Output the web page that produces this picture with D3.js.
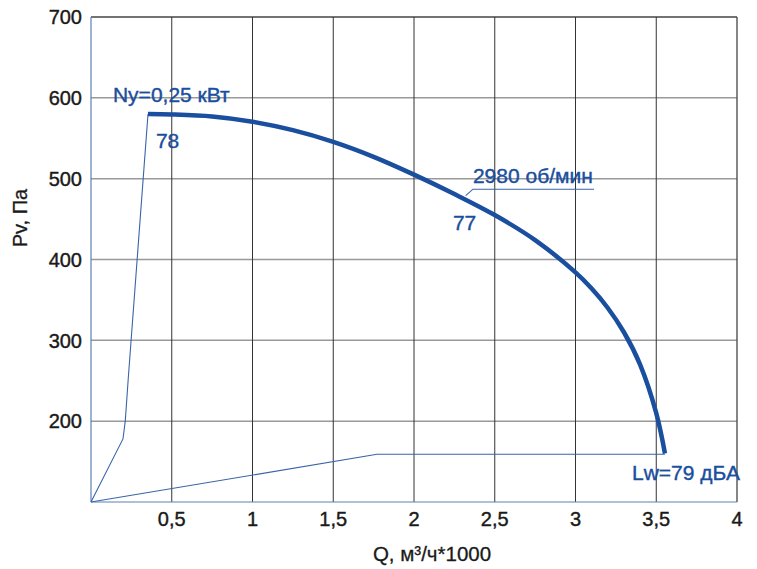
<!DOCTYPE html>
<html><head><meta charset="utf-8">
<script src="https://cdn.jsdelivr.net/npm/d3@7"></script>
<style>
body{margin:0;background:#fff;}
text{font-family:"Liberation Sans",Arial,sans-serif;}
</style></head>
<body><svg id="c" width="757" height="569"></svg>
<script>
// Data
const xTicks = [0.5,1,1.5,2,2.5,3,3.5,4];
const yTicks = [200,300,400,500,600,700];
const curveQ = [0.353,0.5,0.75,1.0,1.25,1.5,1.75,2.0,2.25,2.5,2.75,3.0,3.1,3.2,3.3,3.4,3.5,3.554];
const curveP = [580,579.5,577,570.5,560,545.5,527,505,481,455,424,384,364,340,310,270,210,160];
const powerQ = [0,0.198,0.212,0.23,0.353];
const powerP = [100,178,200,251,580];
const noiseQ = [0,1.771,3.554];
const noiseP = [100,159,159];
const leaderQ = [2.32,2.365,3.115];
const leaderP = [479,487,487];
const labels = [
  {t:"Ny=0,25 кВт", q:0.136, p:595},
  {t:"78", q:0.402, p:538},
  {t:"2980 об/мин", q:2.365, p:494.5},
  {t:"77", q:2.241, p:436},
  {t:"Lw=79 дБА", q:3.35, p:127}
];

const svg = d3.select("#c");
const x = d3.scaleLinear().domain([0,4]).range([91,737]);
const y = d3.scaleLinear().domain([100,700]).range([502,17]);
const blue = "#1a4e9e";

// grid
svg.append("g").selectAll("line").data(yTicks).join("line")
  .attr("x1",x(0)).attr("x2",x(4)).attr("y1",d=>y(d)).attr("y2",d=>y(d))
  .attr("stroke",d=>d===700?"#444":"#999").attr("stroke-width",d=>d===700?1.3:1.5);
svg.append("g").selectAll("line").data(xTicks).join("line")
  .attr("x1",d=>x(d)).attr("x2",d=>x(d)).attr("y1",y(100)).attr("y2",y(700))
  .attr("stroke",d=>d===4?"#444":"#333").attr("stroke-width",d=>d===4?1.3:1);
// left & bottom axis lines
svg.append("line").attr("x1",x(0)).attr("x2",x(0)).attr("y1",y(100)).attr("y2",y(700))
  .attr("stroke","#5b82b3").attr("stroke-width",1.2);
svg.append("line").attr("x1",x(0)).attr("x2",x(4)).attr("y1",y(100)).attr("y2",y(100))
  .attr("stroke","#5b82b3").attr("stroke-width",1.2);

const ink = "#1a1a1a";
// tick labels
svg.append("g").selectAll("text").data(xTicks).join("text")
  .attr("x",d=>x(d)).attr("y",526).attr("text-anchor","middle")
  .attr("font-size",20).attr("fill",ink).attr("stroke",ink).attr("stroke-width",0.4)
  .text(d=>String(d).replace(".",","));
svg.append("g").selectAll("text").data(yTicks).join("text")
  .attr("x",82).attr("y",d=>y(d)).attr("dy","0.36em").attr("text-anchor","end")
  .attr("font-size",20).attr("fill",ink).attr("stroke",ink).attr("stroke-width",0.4).text(d=>d);

// axis titles
svg.append("text").attr("x",432).attr("y",561).attr("text-anchor","middle")
  .attr("font-size",20.5).attr("fill",ink).attr("stroke",ink).attr("stroke-width",0.3).text("Q, м³/ч*1000");
svg.append("text").attr("transform","translate(27,218) rotate(-90)").attr("text-anchor","middle")
  .attr("font-size",20).attr("fill",ink).attr("stroke",ink).attr("stroke-width",0.3).text("Pv, Па");

const line = d3.line().x(d=>x(d[0])).y(d=>y(d[1]));
// thin lines
svg.append("path").attr("d",line(powerQ.map((q,i)=>[q,powerP[i]])))
  .attr("fill","none").attr("stroke","#3a64a8").attr("stroke-width",1.1);
svg.append("path").attr("d",line(noiseQ.map((q,i)=>[q,noiseP[i]])))
  .attr("fill","none").attr("stroke","#3a64a8").attr("stroke-width",1.1);
svg.append("path").attr("d",line(leaderQ.map((q,i)=>[q,leaderP[i]])))
  .attr("fill","none").attr("stroke","#3a64a8").attr("stroke-width",1.1);

// main curve
svg.append("path")
  .attr("d",d3.line().x(d=>x(d[0])).y(d=>y(d[1])).curve(d3.curveCatmullRom.alpha(0.5))(curveQ.map((q,i)=>[q,curveP[i]])))
  .attr("fill","none").attr("stroke",blue).attr("stroke-width",4.5).attr("stroke-linecap","butt");

// labels
svg.append("g").selectAll("text").data(labels).join("text")
  .attr("x",d=>x(d.q)).attr("y",d=>y(d.p)).attr("font-size",21).attr("fill",blue)
  .attr("stroke",blue).attr("stroke-width",0.4)
  .text(d=>d.t);
</script></body></html>
